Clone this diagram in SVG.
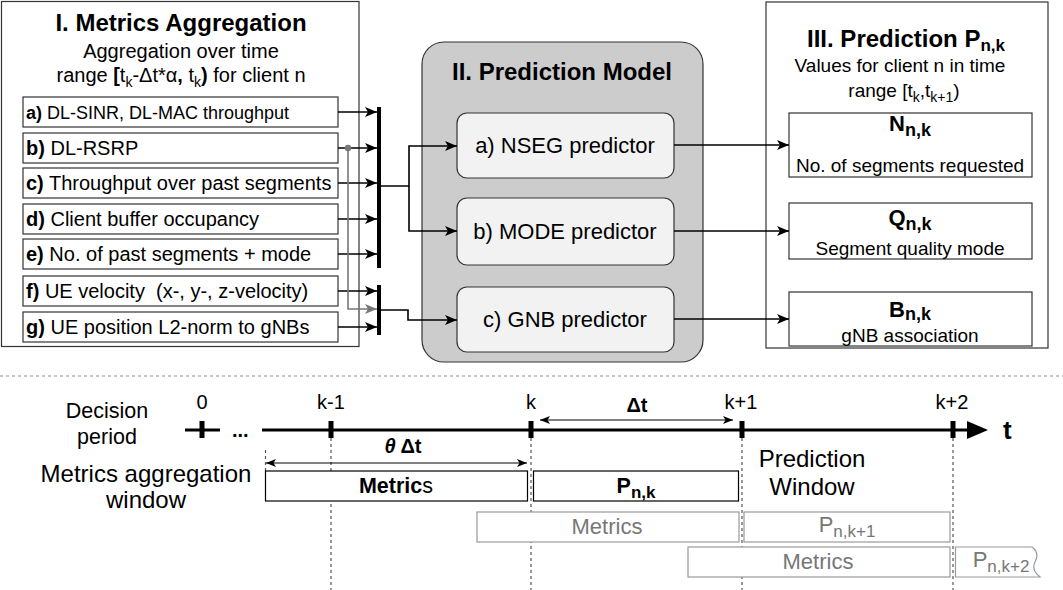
<svg xmlns="http://www.w3.org/2000/svg" width="1063" height="590" viewBox="0 0 1063 590">
  <style>
    text{font-family:"Liberation Sans",Arial,Helvetica,sans-serif;fill:#000}
    .h{font-size:24px;font-weight:bold;text-anchor:middle}
    .s{font-size:20px;text-anchor:middle}
    .s19{font-size:19px;text-anchor:middle}
    .it{font-size:20px}
    .b{font-weight:bold}
    .frame{fill:#fff;stroke:#333;stroke-width:1.2}
    .item{fill:#fff;stroke:#333;stroke-width:1.2}
    .pred{fill:#f2f2f2;stroke:#333;stroke-width:1.2}
    .pt{font-size:22px;text-anchor:middle}
    .wire{fill:none;stroke:#000;stroke-width:1.6}
    .gwire{fill:none;stroke:#777;stroke-width:1.6}
    .thin{fill:none;stroke:#000;stroke-width:1.2}
    .dot{fill:none;stroke:#555;stroke-width:1.2;stroke-dasharray:3 3}
    .axis{fill:none;stroke:#000;stroke-width:3}
    .tick{fill:#000}
    .tl{font-size:20px;text-anchor:middle}
    .big{font-size:24px;text-anchor:middle}
    .mid{font-size:21.5px;text-anchor:middle}
    .win{fill:#fff;stroke:#000;stroke-width:1.2}
    .gwin{fill:#fff;stroke:#999;stroke-width:1.2}
    .gt{fill:#777;font-size:22px;text-anchor:middle}
  </style>
  <defs>
    <marker id="arr" markerUnits="userSpaceOnUse" markerWidth="12" markerHeight="10" refX="12" refY="5" orient="auto">
      <path d="M0,0 L12,5 L0,10 L3,5 Z" fill="#000"/>
    </marker>
    <marker id="garr" markerUnits="userSpaceOnUse" markerWidth="12" markerHeight="10" refX="12" refY="5" orient="auto">
      <path d="M0,0 L12,5 L0,10 L3,5 Z" fill="#777"/>
    </marker>
    <marker id="sm" markerUnits="userSpaceOnUse" markerWidth="10" markerHeight="8" refX="10" refY="4" orient="auto-start-reverse">
      <path d="M0,0 L10,4 L0,8 L2.5,4 Z" fill="#000"/>
    </marker>
  </defs>

  <!-- I. Metrics aggregation panel -->
  <g id="metrics-aggregation">
    <rect class="frame" x="1.5" y="1.5" width="357.5" height="345"/>
    <text class="h" x="181" y="31">I. Metrics Aggregation</text>
    <text class="s" x="181" y="58">Aggregation over time</text>
    <text class="s" x="181" y="82">range <tspan class="b">[</tspan>t<tspan font-size="14" dy="5">k</tspan><tspan dy="-5">-Δt*α</tspan><tspan class="b">,</tspan> t<tspan font-size="14" dy="5">k</tspan><tspan class="b" dy="-5">)</tspan> for client n</text>
  </g>

  <g id="metric-a">
    <rect class="item" x="23" y="97" width="315" height="30"/>
    <text x="26" y="119" style="font-size:18px"><tspan class="b">a)</tspan> DL-SINR, DL-MAC throughput</text>
  </g>
  <g id="metric-b">
    <rect class="item" x="23" y="133" width="315" height="30"/>
    <text class="it" x="26" y="155"><tspan class="b">b)</tspan> DL-RSRP</text>
  </g>
  <g id="metric-c">
    <rect class="item" x="23" y="168" width="315" height="30"/>
    <text class="it" x="26" y="190"><tspan class="b">c)</tspan> Throughput over past segments</text>
  </g>
  <g id="metric-d">
    <rect class="item" x="23" y="204" width="315" height="30"/>
    <text class="it" x="26" y="226"><tspan class="b">d)</tspan> Client buffer occupancy</text>
  </g>
  <g id="metric-e">
    <rect class="item" x="23" y="239" width="315" height="30"/>
    <text class="it" x="26" y="261"><tspan class="b">e)</tspan> No. of past segments + mode</text>
  </g>
  <g id="metric-f">
    <rect class="item" x="23" y="276" width="315" height="30"/>
    <text class="it" x="26" y="298" xml:space="preserve"><tspan class="b">f)</tspan> UE velocity  (x-, y-, z-velocity)</text>
  </g>
  <g id="metric-g">
    <rect class="item" x="23" y="312" width="315" height="30"/>
    <text class="it" x="26" y="334"><tspan class="b">g)</tspan> UE position L2-norm to gNBs</text>
  </g>

  <!-- II. Prediction model panel -->
  <g id="prediction-model">
    <rect x="422" y="42" width="281" height="320" rx="22" ry="22" fill="#cccccc" stroke="#333" stroke-width="1.2"/>
    <text class="h" x="562" y="80">II. Prediction Model</text>
  </g>
  <g id="nseg-predictor">
    <rect class="pred" x="457" y="113" width="217" height="65" rx="10" ry="10"/>
    <text class="pt" x="565" y="153">a) NSEG predictor</text>
  </g>
  <g id="mode-predictor">
    <rect class="pred" x="457" y="198" width="217" height="67" rx="10" ry="10"/>
    <text class="pt" x="565" y="239">b) MODE predictor</text>
  </g>
  <g id="gnb-predictor">
    <rect class="pred" x="457" y="287" width="217" height="65" rx="10" ry="10"/>
    <text class="pt" x="565" y="327">c) GNB predictor</text>
  </g>

  <!-- III. Prediction panel -->
  <g id="prediction">
    <rect class="frame" x="766" y="2" width="282" height="346"/>
    <text class="h" x="906" y="47">III. Prediction P<tspan font-size="17" dy="4">n,k</tspan></text>
    <text class="s19" x="900" y="72">Values for client n in time</text>
    <text class="s19" x="904" y="97">range [t<tspan font-size="14" dy="5">k</tspan><tspan dy="-5">,t</tspan><tspan font-size="14" dy="5">k+1</tspan><tspan dy="-5">)</tspan></text>
  </g>
  <g id="out-n">
    <rect class="item" x="789" y="113" width="243" height="64"/>
    <text class="pt b" x="910" y="131">N<tspan font-size="18" dy="5">n,k</tspan></text>
    <text class="s19" x="910" y="172">No. of segments requested</text>
  </g>
  <g id="out-q">
    <rect class="item" x="789" y="203" width="243" height="56"/>
    <text class="pt b" x="910" y="225">Q<tspan font-size="18" dy="5">n,k</tspan></text>
    <text class="s19" x="910" y="255">Segment quality mode</text>
  </g>
  <g id="out-b">
    <rect class="item" x="789" y="292" width="243" height="54"/>
    <text class="pt b" x="910" y="317">B<tspan font-size="18" dy="3">n,k</tspan></text>
    <text class="s19" x="910" y="342">gNB association</text>
  </g>

  <!-- connectors -->
  <g id="connectors">
    <rect class="tick" x="377" y="107" width="4" height="161"/>
    <rect class="tick" x="377" y="285" width="4" height="50"/>
    <path class="wire" d="M338,112 H377" marker-end="url(#arr)"/>
    <path class="wire" d="M338,148 H377" marker-end="url(#arr)"/>
    <path class="wire" d="M338,183 H377" marker-end="url(#arr)"/>
    <path class="wire" d="M338,219 H377" marker-end="url(#arr)"/>
    <path class="wire" d="M338,254 H377" marker-end="url(#arr)"/>
    <path class="wire" d="M338,291 H377" marker-end="url(#arr)"/>
    <path class="wire" d="M338,327 H377" marker-end="url(#arr)"/>
    <path class="gwire" d="M348,148 V309 H377" marker-end="url(#garr)"/>
    <circle cx="348" cy="148" r="3.2" fill="#777"/>
    <path class="wire" d="M381,186 H409 V146 H457" marker-end="url(#arr)"/>
    <path class="wire" d="M409,186 V231 H457" marker-end="url(#arr)"/>
    <path class="wire" d="M381,310 H408 V320 H457" marker-end="url(#arr)"/>
    <path class="wire" d="M674,145 H789" marker-end="url(#arr)"/>
    <path class="wire" d="M674,231 H789" marker-end="url(#arr)"/>
    <path class="wire" d="M674,319 H789" marker-end="url(#arr)"/>
  </g>

  <!-- separator -->
  <line x1="0" y1="376" x2="1063" y2="376" stroke="#888" stroke-width="1.2" stroke-dasharray="3 3"/>

  <!-- timeline -->
  <g id="timeline">
    <text class="mid" x="107" y="418">Decision</text>
    <text class="mid" x="107" y="444">period</text>
    <text class="big" x="146" y="482">Metrics aggregation</text>
    <text class="big" x="146" y="508">window</text>

    <line class="dot" x1="331" y1="438" x2="331" y2="590"/>
    <line class="dot" x1="531" y1="438" x2="531" y2="590"/>
    <line class="dot" x1="742" y1="438" x2="742" y2="590"/>
    <line class="dot" x1="953" y1="438" x2="953" y2="590"/>
    <line class="dot" x1="265.5" y1="450" x2="265.5" y2="471"/>

    <path class="axis" d="M185,430 H220"/>
    <path class="axis" d="M262,430 H968"/>
    <path d="M967,421 L988,430 L967,439 Z" fill="#000"/>
    <text x="232" y="437" style="font-size:20px;font-weight:bold">...</text>
    <text x="1003" y="439" style="font-size:26px;font-weight:bold">t</text>

    <rect class="tick" x="199.5" y="421" width="5" height="17"/>
    <rect class="tick" x="328.5" y="421" width="5" height="17"/>
    <rect class="tick" x="528.5" y="421" width="5" height="17"/>
    <rect class="tick" x="739.5" y="421" width="5" height="17"/>
    <rect class="tick" x="950.5" y="421" width="5" height="17"/>

    <text class="tl" x="202" y="409">0</text>
    <text class="tl" x="331" y="409">k-1</text>
    <text class="tl" x="531" y="409">k</text>
    <text class="tl" x="741" y="409">k+1</text>
    <text class="tl" x="952" y="409">k+2</text>

    <path class="thin" d="M540,420 H733" marker-start="url(#sm)" marker-end="url(#sm)"/>
    <text class="tl b" x="637" y="412">Δt</text>
    <path class="thin" d="M266,463 H527" marker-start="url(#sm)" marker-end="url(#sm)"/>
    <text class="tl b" x="403" y="453"><tspan font-style="italic">θ</tspan> Δt</text>

    <text class="big" x="812" y="467">Prediction</text>
    <text class="big" x="812" y="495">Window</text>
  </g>

  <g id="window-k">
    <rect class="win" x="265.5" y="471" width="262" height="30"/>
    <text class="mid" x="396" y="493"><tspan class="b">Metric</tspan>s</text>
    <rect class="win" x="533.5" y="471" width="205" height="30"/>
    <text class="mid b" x="636" y="493">P<tspan font-size="17" dy="5">n,k</tspan></text>
  </g>
  <g id="window-k1">
    <rect class="gwin" x="477" y="512" width="262" height="30"/>
    <text class="gt" x="607" y="534">Metrics</text>
    <rect class="gwin" x="744" y="512" width="206" height="30"/>
    <text class="gt" x="847" y="532">P<tspan font-size="17" dy="5">n,k+1</tspan></text>
  </g>
  <g id="window-k2">
    <rect class="gwin" x="688" y="547" width="262" height="30"/>
    <text class="gt" x="818" y="569">Metrics</text>
    <path d="M955.5,547 H1032 Q1040,553 1035,562 Q1031,570 1040,577 H955.5 Z" fill="#fff" stroke="#999" stroke-width="1.2"/>
    <text class="gt" x="1001" y="567">P<tspan font-size="17" dy="5">n,k+2</tspan></text>
  </g>
</svg>
